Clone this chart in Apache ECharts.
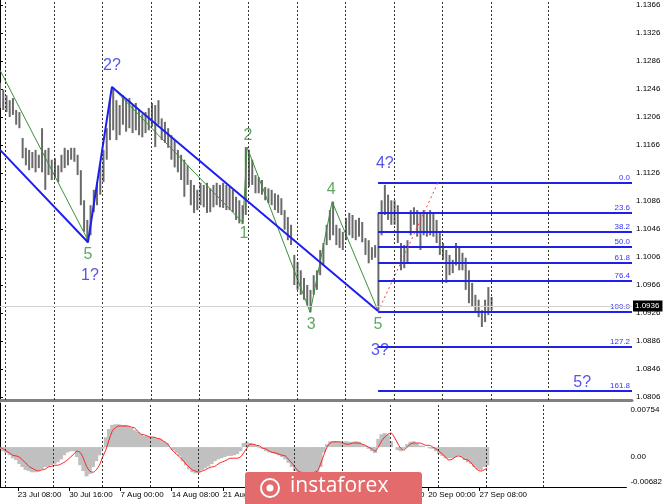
<!DOCTYPE html>
<html><head><meta charset="utf-8">
<script src="https://cdn.jsdelivr.net/npm/echarts@6/dist/echarts.min.js"></script>
<style>html,body{margin:0;padding:0;background:#fff}#c{width:665px;height:504px}</style>
</head><body><div id="c"></div>
<script>
// ---- data (x = 8-hour sample index, EURUSD-like prices) ----
const highs = [1.1255,1.1245,1.1237,1.1230,1.1233,1.1216,1.1213,1.1176,1.1162,1.1159,
1.1156,1.1159,1.1152,1.1190,1.1159,1.1162,1.1145,1.1147,1.1137,1.1152,
1.1162,1.1159,1.1162,1.1162,1.1152,1.1130,1.1087,1.1059,1.1080,1.1102,
1.1113,1.1137,1.1159,1.1190,1.1230,1.1249,1.1230,1.1223,1.1237,1.1230,
1.1233,1.1223,1.1226,1.1216,1.1210,1.1213,1.1219,1.1226,1.1223,1.1230,
1.1204,1.1199,1.1190,1.1180,1.1173,1.1159,1.1152,1.1145,1.1137,1.1116,
1.1109,1.1102,1.1112,1.1109,1.1112,1.1104,1.1109,1.1112,1.1109,1.1112,
1.1109,1.1106,1.1102,1.1092,1.1087,1.1080,1.1163,1.1159,1.1145,1.1123,
1.1120,1.1116,1.1106,1.1104,1.1102,1.1097,1.1095,1.1090,1.1073,1.1063,
1.1052,1.1009,1.0999,1.0987,1.0976,1.0966,1.0959,1.0980,1.0987,1.1016,
1.1026,1.1052,1.1073,1.1085,1.1052,1.1047,1.1042,1.1062,1.1069,1.1066,
1.1059,1.1062,1.1056,1.1033,1.1030,1.1020,1.1023,1.1069,1.1087,1.1109,
1.1095,1.1087,1.1087,1.1080,1.1026,1.1023,1.1030,1.1073,1.1077,1.1073,
1.1070,1.1073,1.1070,1.1073,1.1069,1.1059,1.1042,1.1026,1.1016,1.1009,
1.1002,1.1026,1.1019,1.1012,1.1005,1.0987,1.0969,1.0952,1.0945,1.0930,
1.0945,1.0963,1.0949];
const lows = [1.1219,1.1216,1.1213,1.1206,1.1209,1.1195,1.1190,1.1147,1.1137,1.1130,
1.1133,1.1127,1.1133,1.1127,1.1102,1.1123,1.1116,1.1119,1.1113,1.1127,
1.1133,1.1137,1.1145,1.1142,1.1123,1.1080,1.1042,1.1027,1.1037,1.1070,
1.1080,1.1095,1.1113,1.1145,1.1173,1.1187,1.1173,1.1180,1.1195,1.1185,
1.1190,1.1183,1.1187,1.1180,1.1177,1.1183,1.1187,1.1192,1.1163,1.1195,
1.1173,1.1169,1.1162,1.1145,1.1134,1.1127,1.1116,1.1092,1.1109,1.1080,
1.1069,1.1073,1.1080,1.1077,1.1069,1.1070,1.1077,1.1080,1.1077,1.1076,
1.1073,1.1073,1.1070,1.1059,1.1054,1.1053,1.1066,1.1106,1.1109,1.1097,
1.1097,1.1095,1.1087,1.1083,1.1080,1.1073,1.1069,1.1066,1.1045,1.1030,
1.1023,1.0966,1.0959,1.0952,1.0945,1.0937,1.0927,1.0952,1.0959,1.0980,
1.0994,1.1023,1.1030,1.1037,1.1023,1.1019,1.1016,1.1030,1.1037,1.1033,
1.1030,1.1035,1.1027,1.1009,1.0997,1.1002,1.1005,1.0929,1.1037,1.1066,
1.1059,1.1052,1.1052,1.1026,1.0987,1.0990,1.0997,1.1037,1.1052,1.1035,
1.1016,1.1037,1.1035,1.1037,1.1035,1.1026,1.1009,1.1002,1.0969,1.0980,
1.0983,1.0994,1.0987,1.0987,1.0959,1.0940,1.0935,1.0927,1.0920,1.0906,
1.0913,1.0923,1.0930];
const lastClose = 1.0936;

const macdHist = [-0.0003,-0.0007,-0.0010,-0.0014,-0.0019,-0.0022,-0.0029,-0.0034,-0.0039,-0.0041,
-0.0043,-0.0043,-0.0041,-0.0038,-0.0034,-0.0033,-0.0031,-0.0029,-0.0026,-0.0021,
-0.0014,-0.0009,-0.0007,-0.0007,-0.0017,-0.0031,-0.0041,-0.0050,-0.0046,-0.0034,
-0.0024,-0.0014,-0.0003,0.0017,0.0031,0.0038,0.0039,0.0039,0.0038,0.0038,
0.0036,0.0033,0.0029,0.0026,0.0022,0.0019,0.0019,0.0017,0.0017,0.0015,
0.0014,0.0010,0.0007,0.0000,-0.0005,-0.0010,-0.0015,-0.0024,-0.0031,-0.0038,
-0.0043,-0.0045,-0.0043,-0.0039,-0.0036,-0.0033,-0.0029,-0.0024,-0.0021,-0.0019,
-0.0017,-0.0015,-0.0015,-0.0014,-0.0012,-0.0007,0.0007,0.0009,0.0007,0.0005,
0.0003,-0.0002,-0.0003,-0.0007,-0.0009,-0.0010,-0.0012,-0.0014,-0.0017,-0.0021,
-0.0027,-0.0034,-0.0041,-0.0045,-0.0046,-0.0048,-0.0048,-0.0046,-0.0046,-0.0045,
-0.0034,-0.0009,0.0005,0.0010,0.0010,0.0010,0.0009,0.0009,0.0010,0.0009,
0.0009,0.0010,0.0009,0.0005,0.0002,-0.0003,-0.0007,-0.0010,0.0014,0.0022,
0.0024,0.0021,0.0010,0.0000,-0.0005,-0.0007,-0.0003,0.0005,0.0009,0.0010,
0.0007,0.0003,0.0002,0.0000,-0.0002,-0.0003,-0.0007,-0.0012,-0.0015,-0.0019,
-0.0019,-0.0019,-0.0017,-0.0014,-0.0017,-0.0022,-0.0026,-0.0029,-0.0034,-0.0038,
-0.0039,-0.0034,-0.0031];
const macdSignal = [0,-0.0003,-0.0007,-0.0010,-0.0014,-0.0015,-0.0017,-0.0022,-0.0027,-0.0033,
-0.0036,-0.0039,-0.0041,-0.0039,-0.0038,-0.0034,-0.0033,-0.0031,-0.0031,-0.0029,
-0.0026,-0.0022,-0.0017,-0.0012,-0.0007,-0.0009,-0.0019,-0.0033,-0.0041,-0.0043,
-0.0039,-0.0031,-0.0017,-0.0005,0.0012,0.0027,0.0033,0.0036,0.0036,0.0036,
0.0036,0.0034,0.0033,0.0027,0.0022,0.0021,0.0019,0.0017,0.0017,0.0015,
0.0014,0.0010,0.0007,0,-0.0007,-0.0012,-0.0017,-0.0022,-0.0029,-0.0034,
-0.0039,-0.0041,-0.0043,-0.0041,-0.0039,-0.0036,-0.0034,-0.0033,-0.0029,-0.0026,
-0.0024,-0.0021,-0.0019,-0.0019,-0.0019,-0.0017,-0.0010,-0.0002,0.0005,0.0005,
0.0003,0.0002,-0.0002,-0.0003,-0.0007,-0.0009,-0.0010,-0.0012,-0.0014,-0.0015,
-0.0021,-0.0027,-0.0034,-0.0041,-0.0043,-0.0045,-0.0045,-0.0045,-0.0043,-0.0041,
-0.0029,-0.0014,0,0.0007,0.0009,0.0009,0.0009,0.0007,0.0005,0.0005,
0.0007,0.0007,0.0007,0.0005,0.0003,0,-0.0003,-0.0007,0,0.0010,
0.0017,0.0022,0.0024,0.0017,0.0007,-0.0002,-0.0005,0,0.0005,0.0007,
0.0007,0.0007,0.0005,0.0003,0.0003,0,-0.0003,-0.0007,-0.0012,-0.0017,
-0.0022,-0.0021,-0.0017,-0.0015,-0.0017,-0.0021,-0.0022,-0.0027,-0.0034,-0.0039,
-0.0041,-0.0039,-0.0036];

const priceTicks = [1.0806,1.0846,1.0886,1.0926,1.0966,1.1006,1.1046,1.1086,1.1126,1.1166,1.1206,1.1246,1.1286,1.1326,1.1366];
const macdTicks = [0.00754, 0, -0.00682];
const timeLabelPos = [5.57,21.57,37.57,53.57,69.57,85.57,101.57,117.57,133.57,149.57];
const timeLabels = ['23 Jul 08:00','30 Jul 16:00','7 Aug 00:00','14 Aug 08:00','21 Aug 16:00','29 Aug 00:00','5 Sep 08:00','12 Sep 16:00','20 Sep 00:00','27 Sep 08:00'];
const weekLines = [1.76,16.76,31.76,46.76,61.76,76.76,91.76,106.76,121.76,136.76,151.76,169.4];

const fibHigh = 1.1112, fibLow = 1.0928, fibStart = 116.9;
const fibLevels = [0, 23.6, 38.2, 50, 61.8, 76.4, 100, 127.2, 161.8];
const fibTrend = [[116.9,1.0928],[135.4,1.1112]];
const blueWave = [[0,1.1159],[27.2,1.1027],[34.6,1.1249],[116.9,1.0929]];
const greenWaveA = [[0,1.1273],[27.2,1.1030]];
const greenWaveB = [[34.6,1.1249],[75.1,1.1055],[76.4,1.1163],[95.9,1.0927],[102.7,1.1085],[116.9,1.0929]];
const waveLabels = [['5',27.2,1.1009,'g'],['1?',27.8,1.0980,'b'],['2?',34.6,1.1280,'b'],['1',75.4,1.1040,'g'],
['2',76.7,1.1180,'g'],['3',96.2,1.0909,'g'],['4',102.4,1.1102,'g'],['4?',119.0,1.1140,'b'],
['5',116.9,1.0909,'g'],['3?',117.5,1.0873,'b'],['5?',180.0,1.0827,'b']];

// ---- chart ----
const XMAX = 195.42;
const FONT = 'Liberation Sans, Arial, sans-serif';
const GREEN = '#3a913a', BLUE = '#2a2ae0';
const chart = echarts.init(document.getElementById('c'), null, {renderer:'canvas'});
const fibPrice = l => fibHigh - l/100*(fibHigh - fibLow);

const option = {
  animation: false,
  backgroundColor: '#fff',
  grid: [
    {left: 0, top: 0, width: 632, height: 400},
    {left: 0, top: 403, width: 632, height: 84}
  ],
  xAxis: [
    {gridIndex:0, type:'value', min:0, max:XMAX,
     axisLine:{show:true, onZero:false, lineStyle:{color:'#808080', width:3}},
     axisTick:{show:false}, axisLabel:{show:false}, splitLine:{show:false}},
    {gridIndex:1, type:'value', min:0, max:XMAX,
     axisLine:{show:true, onZero:false, lineStyle:{color:'#000', width:1}},
     axisTick:{show:true, customValues: timeLabelPos, length:4, lineStyle:{color:'#000'}},
     axisLabel:{show:true, customValues: timeLabelPos, align:'left', margin:4, fontSize:8, fontFamily:FONT, color:'#000',
       formatter: v => { let k=0, d=1e9; timeLabelPos.forEach((p,i)=>{ if(Math.abs(p-v)<d){d=Math.abs(p-v);k=i;} }); return timeLabels[k]; }},
     splitLine:{show:false}}
  ],
  yAxis: [
    {gridIndex:0, type:'value', position:'right', min:1.080171, max:1.137314,
     axisLine:{show:true, lineStyle:{color:'#000'}},
     axisTick:{show:true, customValues: priceTicks, length:3, lineStyle:{color:'#000'}},
     axisLabel:{show:true, customValues: priceTicks, margin:4, fontSize:8, fontFamily:FONT, color:'#000', formatter: v => v.toFixed(4)},
     splitLine:{show:false}},
    {gridIndex:1, type:'value', position:'right', min:-0.00682, max:0.00754,
     axisLine:{show:true, lineStyle:{color:'#000'}},
     axisTick:{show:false},
     axisLabel:{show:true, customValues: macdTicks, margin:4, fontSize:8, fontFamily:FONT, color:'#000',
       formatter: v => v > 0 ? '{a|' + v + '}' : (v < 0 ? '{c|' + v + '}' : '{b|0.00}'),
       rich:{a:{fontSize:8, fontFamily:FONT, color:'#000', padding:[14,0,0,0]},
             b:{fontSize:8, fontFamily:FONT, color:'#000', padding:[20,0,0,0]},
             c:{fontSize:8, fontFamily:FONT, color:'#000', padding:[0,0,10,0]}}},
     splitLine:{show:false}}
  ],
  series: [
    {type:'line', xAxisIndex:0, yAxisIndex:0, data:[], silent:true, z:1,
     markLine:{silent:true, symbol:'none', precision:4, label:{show:false}, lineStyle:{color:'#333', type:[2,2], width:1},
       data: weekLines.map(v => ({xAxis:v}))}},
    {type:'line', xAxisIndex:1, yAxisIndex:1, data:[], silent:true, z:1,
     markLine:{silent:true, symbol:'none', precision:4, label:{show:false}, lineStyle:{color:'#333', type:[2,2], width:1},
       data: weekLines.map(v => ({xAxis:v}))}},
    {type:'line', xAxisIndex:0, yAxisIndex:0, data:[[0, lastClose]], symbol:'none', silent:true, z:2,
     lineStyle:{opacity:0},
     markLine:{silent:true, symbol:'none', precision:4, lineStyle:{color:'#d0d0d0', type:'solid', width:1},
       label:{show:true, position:'end', distance:1, formatter: () => lastClose.toFixed(4),
         backgroundColor:'#000', color:'#fff', fontSize:8, fontFamily:FONT, padding:[2,3,1,2]},
       data:[{yAxis:lastClose}]}},
    {type:'custom', xAxisIndex:0, yAxisIndex:0, z:3,
     data: highs.map((h,i) => [i, h, lows[i]]),
     encode:{x:0, y:[1,2]},
     renderItem: (params, api) => {
       const a = api.coord([api.value(0), api.value(1)]);
       const b = api.coord([api.value(0), api.value(2)]);
       return {type:'line', shape:{x1:a[0], y1:a[1], x2:b[0], y2:b[1]}, style:{stroke:'#6a6a6a', lineWidth:2}};
     }},
    {type:'line', xAxisIndex:0, yAxisIndex:0, data: fibTrend, symbol:'none', z:4,
     lineStyle:{color:'#ff3a3a', type:[2,3], width:1},
     markLine:{silent:true, symbol:'none', z:4, precision:4,
       lineStyle:{color:'#1f1fee', width:2, type:'solid'},
       label:{show:true, position:'insideEndTop', formatter:'{b}', color:'#3535ff', fontSize:8, fontFamily:FONT, distance:[2,1]},
       data: fibLevels.map(l => [{coord:[fibStart, fibPrice(l)], name:l.toFixed(1)}, {coord:[XMAX, fibPrice(l)]}])}},
    {type:'line', xAxisIndex:0, yAxisIndex:0, data: greenWaveA, symbol:'none', z:4, lineStyle:{color:GREEN, width:1}},
    {type:'line', xAxisIndex:0, yAxisIndex:0, data: greenWaveB, symbol:'none', z:4, lineStyle:{color:GREEN, width:1}},
    {type:'line', xAxisIndex:0, yAxisIndex:0, data: blueWave, symbol:'none', z:5, lineStyle:{color:'#1e1ef0', width:2}},
    {type:'scatter', xAxisIndex:0, yAxisIndex:0, symbolSize:1, z:6, itemStyle:{color:'transparent'},
     data: waveLabels.map(w => ({value:[w[1], w[2]],
       label:{show:true, position:'inside', formatter:w[0], fontSize:16, fontFamily:FONT, color: w[3]==='g' ? GREEN : BLUE}}))},
    {type:'bar', xAxisIndex:1, yAxisIndex:1, barWidth:4, z:2, itemStyle:{color:'#c0c0c0'},
     data: macdHist.map((v,i) => [i, v])},
    {type:'line', xAxisIndex:1, yAxisIndex:1, symbol:'none', smooth:0.3, z:3,
     lineStyle:{color:'#ff2020', width:1}, data: macdSignal.map((v,i) => [i, v])}
  ],
  graphic: [
    {type:'rect', z:100, shape:{x:245, y:472, width:177, height:32, r:[3,3,0,0]}, style:{fill:'#e36b6b'}},
    {type:'circle', z:101, shape:{cx:270, cy:488, r:9}, style:{fill:'none', stroke:'#fff', lineWidth:2}},
    {type:'circle', z:101, shape:{cx:270, cy:488, r:3.5}, style:{fill:'#fff'}},
    {type:'text', z:101, x:290, y:476, style:{text:'instaforex', fill:'#fff', font:'21px "Open Sans", sans-serif'}}
  ]
};
chart.setOption(option);
</script>
</body></html>
